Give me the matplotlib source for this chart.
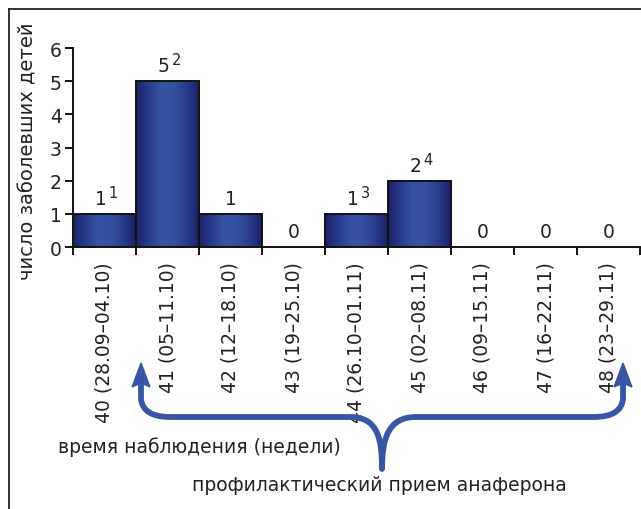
import matplotlib
matplotlib.use("Agg")
import matplotlib.pyplot as plt
import numpy as np
from matplotlib.colors import LinearSegmentedColormap
from matplotlib.path import Path
from matplotlib.patches import PathPatch, Polygon
from matplotlib.lines import Line2D

plt.rcParams['font.family'] = ['DejaVu Sans']

# ---- data ----
weeks = ["40 (28.09–04.10)", "41 (05–11.10)", "42 (12–18.10)", "43 (19–25.10)",
         "44 (26.10–01.11)", "45 (02–08.11)", "46 (09–15.11)", "47 (16–22.11)",
         "48 (23–29.11)"]
cases = [1, 5, 1, 0, 1, 2, 0, 0, 0]
notes = ["1", "2", "", "", "3", "4", "", "", ""]
y_ticks = [0, 1, 2, 3, 4, 5, 6]
y_label = "число заболевших детей"
x_label = "время наблюдения (недели)"
brace_label = "профилактический прием анаферона"

W, H = 641, 510
fig = plt.figure(figsize=(W / 100, H / 100), dpi=100)
ax = fig.add_axes([73 / W, (H - 248) / H, (640 - 73) / W, (248 - 49) / H])

cmap = LinearSegmentedColormap.from_list(
    "bar", ["#1c2266", "#2a3a8c", "#3653a3", "#3651a0", "#2b3b8c", "#1b2165"])
grad = np.linspace(0, 1, 256).reshape(1, -1)

n = len(cases)
xs = np.arange(n)
bars = ax.bar(xs, cases, width=1.0, facecolor="none", edgecolor="#111111",
              linewidth=1.4, zorder=3)
for b, v in zip(bars, cases):
    if v <= 0:
        continue
    x0 = b.get_x()
    im = ax.imshow(grad, cmap=cmap, aspect="auto",
                   extent=(x0, x0 + b.get_width(), 0, v), zorder=2)
    im.set_clip_path(b)

txt_col = "#222222"
for x, v, nt in zip(xs, cases, notes):
    if nt:
        ax.annotate(str(v), (x, v), xytext=(2, 6), textcoords="offset pixels",
                    ha="right", va="bottom", fontsize=13.5, color=txt_col)
        ax.annotate(nt, (x, v), xytext=(4, 14), textcoords="offset pixels",
                    ha="left", va="bottom", fontsize=10.5, color=txt_col)
    else:
        ax.annotate(str(v), (x, v), xytext=(0, 6), textcoords="offset pixels",
                    ha="center", va="bottom", fontsize=13.5, color=txt_col)

ax.set_xlim(-0.5, n - 0.5)
ax.set_ylim(0, 6)
ax.set_yticks(y_ticks)
ax.set_yticklabels([str(t) for t in y_ticks], fontsize=13.5, color=txt_col)
ax.set_xticks(xs)
ax.set_xticklabels(weeks, rotation=90, fontsize=13.5, color=txt_col,
                   va="top", ha="center")
ax.set_xticks(np.arange(-0.5, n, 1.0), minor=True)
ax.tick_params(axis="x", which="major", length=0, pad=10)
ax.tick_params(axis="x", which="minor", length=6, width=1.3, direction="out")
ax.tick_params(axis="y", length=6, width=1.3, direction="out", pad=2)
for s in ["top", "right"]:
    ax.spines[s].set_visible(False)
for s in ["left", "bottom"]:
    ax.spines[s].set_linewidth(1.4)
    ax.spines[s].set_color("#111111")

# y label
fig.text(28 / W, 1 - 151 / H, y_label, rotation=90, ha="center", va="center",
         fontsize=14, color=txt_col)

# overlay in pixel coordinates for frame, brace, texts
ov = fig.add_axes([0, 0, 1, 1], facecolor="none")
ov.set_xlim(0, W)
ov.set_ylim(H, 0)
ov.axis("off")

ov.add_line(Line2D([9, W], [10, 10], color="#222222", lw=1.3))
ov.add_line(Line2D([9, 9], [10, H], color="#222222", lw=1.3))

blue = "#3a55a6"
verts = [(141, 384), (141, 400), (143, 418), (170, 418),
         (350, 418), (378, 418), (382, 440), (382, 470),
         (382, 440), (388, 418), (416, 418),
         (594, 418), (621, 418), (623, 400), (623, 384)]
codes = [Path.MOVETO, Path.LINETO, Path.CURVE3, Path.CURVE3,
         Path.LINETO, Path.CURVE4, Path.CURVE4, Path.CURVE4,
         Path.CURVE4, Path.CURVE4, Path.CURVE4,
         Path.LINETO, Path.CURVE3, Path.CURVE3, Path.LINETO]
ov.add_patch(PathPatch(Path(verts, codes), facecolor="none", edgecolor=blue,
                       lw=4.2, capstyle="round", joinstyle="round"))
for xt in (141, 623):
    ov.add_patch(Polygon([(xt, 364), (xt - 9, 388), (xt, 384), (xt + 9, 388)],
                         closed=True, facecolor=blue, edgecolor=blue, lw=1))

ov.text(58, 447, x_label, ha="left", va="center", fontsize=13.5,
        color=txt_col)
ov.text(192, 486, brace_label, ha="left", va="center", fontsize=13.5,
        color=txt_col)

fig.savefig("out.png", dpi=100)
